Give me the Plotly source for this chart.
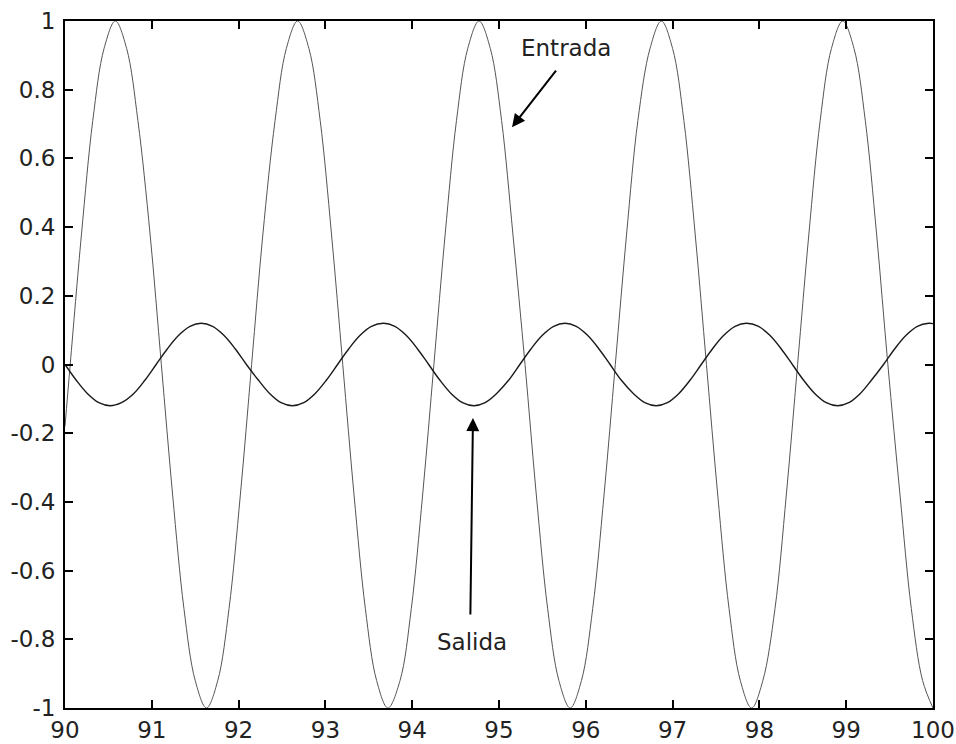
import plotly.graph_objects as go

# Input signal (Entrada): read every sixteenth of a period, peaks at +/-1
entrada_t = [90.00,
             90.06, 90.19, 90.32, 90.45, 90.58, 90.71, 90.84, 90.98,
             91.11, 91.24, 91.37, 91.50, 91.63, 91.76, 91.89, 92.02,
             92.15, 92.28, 92.42, 92.55, 92.68, 92.81, 92.94, 93.07,
             93.20, 93.33, 93.46, 93.59, 93.72, 93.86, 93.99, 94.12,
             94.25, 94.38, 94.51, 94.64, 94.77, 94.90, 95.03, 95.16,
             95.30, 95.43, 95.56, 95.69, 95.82, 95.95, 96.08, 96.21,
             96.34, 96.47, 96.60, 96.74, 96.87, 97.00, 97.13, 97.26,
             97.39, 97.52, 97.65, 97.78, 97.91, 98.04, 98.18, 98.31,
             98.44, 98.57, 98.70, 98.83, 98.96, 99.09, 99.22, 99.35,
             99.48, 99.62, 99.75, 99.88, 100.00]
entrada_y = [-0.18,
             0.00, 0.38, 0.71, 0.92, 1.00, 0.92, 0.71, 0.38,
             0.00, -0.38, -0.71, -0.92, -1.00, -0.92, -0.71, -0.38,
             0.00, 0.38, 0.71, 0.92, 1.00, 0.92, 0.71, 0.38,
             0.00, -0.38, -0.71, -0.92, -1.00, -0.92, -0.71, -0.38,
             0.00, 0.38, 0.71, 0.92, 1.00, 0.92, 0.71, 0.38,
             0.00, -0.38, -0.71, -0.92, -1.00, -0.92, -0.71, -0.38,
             0.00, 0.38, 0.71, 0.92, 1.00, 0.92, 0.71, 0.38,
             0.00, -0.38, -0.71, -0.92, -1.00, -0.92, -0.71, -0.38,
             0.00, 0.38, 0.71, 0.92, 1.00, 0.92, 0.71, 0.38,
             0.00, -0.38, -0.71, -0.92, -1.00]

# Output signal (Salida): small amplitude, nearly opposite in phase
salida_t = [90.00, 90.13, 90.26, 90.39, 90.52, 90.65, 90.79, 90.92,
            91.05, 91.18, 91.31, 91.44, 91.57, 91.70, 91.83, 91.96,
            92.09, 92.23, 92.36, 92.49, 92.62, 92.75, 92.88, 93.01,
            93.14, 93.27, 93.40, 93.53, 93.67, 93.80, 93.93, 94.06,
            94.19, 94.32, 94.45, 94.58, 94.71, 94.84, 94.97, 95.11,
            95.24, 95.37, 95.50, 95.63, 95.76, 95.89, 96.02, 96.15,
            96.28, 96.41, 96.55, 96.68, 96.81, 96.94, 97.07, 97.20,
            97.33, 97.46, 97.59, 97.72, 97.85, 97.99, 98.12, 98.25,
            98.38, 98.51, 98.64, 98.77, 98.90, 99.03, 99.16, 99.29,
            99.43, 99.56, 99.69, 99.82, 99.95, 100.00]
salida_y = [0.000, -0.046, -0.085, -0.111, -0.120, -0.111, -0.085, -0.046,
            0.000, 0.046, 0.085, 0.111, 0.120, 0.111, 0.085, 0.046,
            0.000, -0.046, -0.085, -0.111, -0.120, -0.111, -0.085, -0.046,
            0.000, 0.046, 0.085, 0.111, 0.120, 0.111, 0.085, 0.046,
            0.000, -0.046, -0.085, -0.111, -0.120, -0.111, -0.085, -0.046,
            0.000, 0.046, 0.085, 0.111, 0.120, 0.111, 0.085, 0.046,
            0.000, -0.046, -0.085, -0.111, -0.120, -0.111, -0.085, -0.046,
            0.000, 0.046, 0.085, 0.111, 0.120, 0.111, 0.085, 0.046,
            0.000, -0.046, -0.085, -0.111, -0.120, -0.111, -0.085, -0.046,
            0.000, 0.046, 0.085, 0.111, 0.120, 0.119]

x_ticks = [90, 91, 92, 93, 94, 95, 96, 97, 98, 99, 100]
y_ticks = [-1, -0.8, -0.6, -0.4, -0.2, 0, 0.2, 0.4, 0.6, 0.8, 1]
y_tick_text = ["-1", "-0.8", "-0.6", "-0.4", "-0.2", "0", "0.2", "0.4", "0.6", "0.8", "1"]

FONT = "DejaVu Sans, Arial, sans-serif"

fig = go.Figure()
fig.add_trace(go.Scatter(
    x=entrada_t, y=entrada_y, mode="lines", name="Entrada",
    line=dict(color="#555555", width=1, shape="spline", smoothing=1),
))
fig.add_trace(go.Scatter(
    x=salida_t, y=salida_y, mode="lines", name="Salida",
    line=dict(color="#1a1a1a", width=1.4, shape="spline", smoothing=1),
))

axis_common = dict(
    showgrid=False, zeroline=False, showline=True, linecolor="black",
    linewidth=2, mirror="allticks", ticks="inside", ticklen=8,
    tickwidth=1.5, tickcolor="black", automargin=False,
    tickfont=dict(family=FONT, size=23, color="#222222"),
)

fig.update_layout(
    width=956, height=744,
    margin=dict(l=65, r=23, t=21, b=36),
    paper_bgcolor="white", plot_bgcolor="white",
    showlegend=False,
    xaxis=dict(range=[90, 100], tickvals=x_ticks, ticklabelstandoff=0, **axis_common),
    yaxis=dict(range=[-1, 1], tickvals=y_ticks, ticktext=y_tick_text,
               ticklabelstandoff=3, **axis_common),
    annotations=[
        dict(x=95.77, y=0.921, xref="x", yref="y", text="Entrada",
             showarrow=False, font=dict(family=FONT, size=23, color="#222222")),
        dict(x=95.15, y=0.691, xref="x", yref="y", ax=95.67, ay=0.860,
             axref="x", ayref="y", text="", showarrow=True, arrowhead=2,
             arrowsize=1.3, arrowwidth=2, arrowcolor="black"),
        dict(x=94.69, y=-0.808, xref="x", yref="y", text="Salida",
             showarrow=False, font=dict(family=FONT, size=23, color="#222222")),
        dict(x=94.70, y=-0.156, xref="x", yref="y", ax=94.67, ay=-0.732,
             axref="x", ayref="y", text="", showarrow=True, arrowhead=2,
             arrowsize=1.3, arrowwidth=2, arrowcolor="black"),
    ],
)

fig.write_html("out.html")
